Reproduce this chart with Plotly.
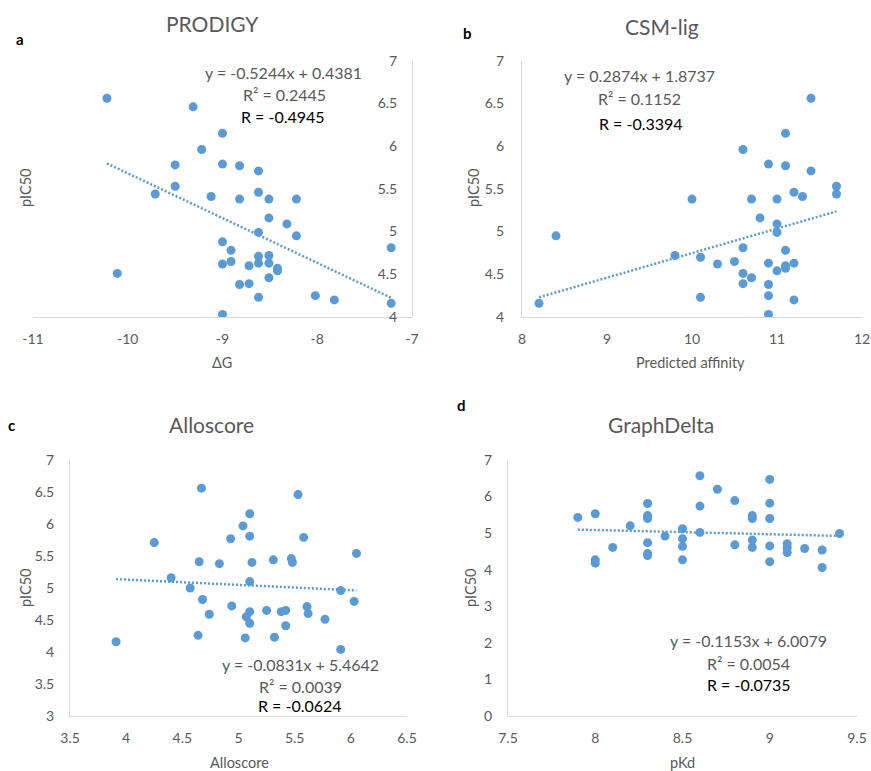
import plotly.graph_objects as go

W, H = 871, 771

# ---------------- data ----------------
# Panel a: PRODIGY (ΔG vs pIC50)
prodigy_x = [-10.22, -9.31, -9.0, -9.22, -9.5, -9.0, -8.82, -8.62, -9.5, -9.71,
             -9.12, -8.82, -8.62, -8.51, -8.22, -8.51, -8.32, -8.62, -8.22, -9.0,
             -8.91, -7.22, -8.62, -8.51, -8.62, -8.51, -8.91, -9.0, -8.72, -8.42,
             -8.42, -10.11, -8.51, -8.82, -8.72, -8.62, -8.02, -7.82, -7.22, -9.0]
prodigy_y = [6.56, 6.46, 6.15, 5.96, 5.78, 5.79, 5.77, 5.71, 5.53, 5.44,
             5.41, 5.38, 5.46, 5.38, 5.38, 5.16, 5.09, 4.99, 4.95, 4.88,
             4.78, 4.81, 4.71, 4.72, 4.63, 4.63, 4.65, 4.62, 4.60, 4.57,
             4.54, 4.51, 4.46, 4.38, 4.39, 4.23, 4.25, 4.20, 4.16, 4.03]

# Panel b: CSM-lig (predicted affinity vs pIC50)
csm_x = [11.4, 11.1, 10.6, 10.9, 11.1, 11.4, 11.7, 11.7, 11.2, 11.3,
         10.0, 10.7, 11.0, 10.8, 11.0, 11.0, 8.4, 10.6, 11.1, 9.8,
         10.1, 10.5, 10.3, 10.9, 11.2, 11.1, 11.1, 11.0, 10.6, 10.7,
         10.6, 10.9, 10.1, 10.9, 11.2, 8.2, 10.9]
csm_y = [6.56, 6.15, 5.96, 5.79, 5.77, 5.71, 5.53, 5.44, 5.46, 5.41,
         5.38, 5.38, 5.38, 5.16, 5.09, 4.99, 4.95, 4.81, 4.78, 4.72,
         4.70, 4.65, 4.62, 4.63, 4.63, 4.60, 4.57, 4.54, 4.51, 4.46,
         4.39, 4.38, 4.23, 4.25, 4.20, 4.16, 4.03]

# Panel c: Alloscore
allo_x = [4.67, 5.53, 5.10, 5.04, 4.93, 5.10, 5.58, 4.25, 6.05, 4.65,
          4.83, 5.12, 5.31, 5.47, 5.48, 4.40, 5.10, 4.57, 5.91, 4.68,
          6.03, 4.94, 5.61, 4.74, 5.10, 5.25, 5.38, 5.42, 5.62, 5.07,
          5.10, 5.77, 5.42, 4.64, 5.06, 5.32, 3.91, 5.91]
allo_y = [6.56, 6.46, 6.16, 5.97, 5.77, 5.81, 5.79, 5.71, 5.54, 5.41,
          5.38, 5.40, 5.44, 5.46, 5.40, 5.16, 5.10, 5.00, 4.96, 4.82,
          4.79, 4.72, 4.71, 4.59, 4.63, 4.65, 4.63, 4.65, 4.60, 4.55,
          4.45, 4.51, 4.41, 4.26, 4.22, 4.23, 4.16, 4.04]

# Panel d: GraphDelta (pKd vs pIC50)
gd_x = [7.9, 8.0, 8.0, 8.0, 8.1, 8.2, 8.3, 8.3, 8.3, 8.3,
        8.3, 8.3, 8.4, 8.5, 8.5, 8.5, 8.5, 8.6, 8.6, 8.6,
        8.7, 8.8, 8.8, 8.9, 8.9, 8.9, 8.9, 9.0, 9.0, 9.0,
        9.0, 9.0, 9.1, 9.1, 9.1, 9.2, 9.3, 9.3, 9.4]
gd_y = [5.43, 5.53, 4.27, 4.18, 4.61, 5.20, 5.81, 5.48, 5.40, 4.74,
        4.44, 4.39, 4.92, 5.12, 4.85, 4.64, 4.27, 6.57, 5.74, 5.02,
        6.20, 5.89, 4.68, 5.48, 5.40, 4.81, 4.61, 6.47, 5.82, 5.40,
        4.65, 4.22, 4.71, 4.60, 4.47, 4.58, 4.54, 4.06, 4.99]

# Trend line coefficients (as printed on the chart)
slopes = [-0.5244, 0.2874, -0.0831, -0.1153]
intercepts = [0.4381, 1.8737, 5.4642, 6.0079]
eq_texts = ["y = -0.5244x + 0.4381", "y = 0.2874x + 1.8737",
            "y = -0.0831x + 5.4642", "y = -0.1153x + 6.0079"]
r2_texts = ["R² = 0.2445", "R² = 0.1152", "R² = 0.0039", "R² = 0.0054"]
r_texts = ["R = -0.4945", "R = -0.3394", "R = -0.0624", "R = -0.0735"]

titles = ["PRODIGY", "CSM-lig", "Alloscore", "GraphDelta"]
letters = ["a", "b", "c", "d"]
xtitles = ["ΔG", "Predicted affinity", "Alloscore", "pKd"]

# tick labels
a_xticks = [-11, -10, -9, -8, -7]
a_xticktext = ["-11", "-10", "-9", "-8", "-7"]
ab_yticks = [4, 4.5, 5, 5.5, 6, 6.5, 7]
b_xticks = [8, 9, 10, 11, 12]
c_xticks = [3.5, 4, 4.5, 5, 5.5, 6, 6.5]
c_yticks = [3, 3.5, 4, 4.5, 5, 5.5, 6, 6.5, 7]
d_xticks = [7.5, 8, 8.5, 9, 9.5]
d_yticks = [0, 1, 2, 3, 4, 5, 6, 7]

# ---------------- styling ----------------
FONT = "Lato"
GRAY = "#595959"
LINE = "#d9d9d9"
BLUE = "#5B9BD5"


def px(x):
    return x / W


def py(y):
    return 1 - y / H


fig = go.Figure()

datasets = [(prodigy_x, prodigy_y), (csm_x, csm_y), (allo_x, allo_y), (gd_x, gd_y)]
axnames = [("x", "y"), ("x2", "y2"), ("x3", "y3"), ("x4", "y4")]

for i, ((xs, ys), (xa, ya)) in enumerate(zip(datasets, axnames)):
    x0, x1 = min(xs), max(xs)
    fig.add_trace(go.Scatter(
        x=[x0, x1], y=[slopes[i] * x0 + intercepts[i], slopes[i] * x1 + intercepts[i]],
        mode="lines", line=dict(color=BLUE, width=2.5, dash="2px,2px"),
        xaxis=xa, yaxis=ya, showlegend=False, hoverinfo="skip"))
    fig.add_trace(go.Scatter(
        x=xs, y=ys, mode="markers",
        marker=dict(color=BLUE, size=9, line=dict(width=0)),
        xaxis=xa, yaxis=ya, showlegend=False))

tickfont = dict(family=FONT, size=14, color=GRAY)
common = dict(showgrid=False, zeroline=False, showline=True, linecolor=LINE,
              linewidth=1, ticks="", tickfont=tickfont, automargin=False)

# domains in pixels
top_y = (60.7, 317)
bot_y = (460, 716)

fig.update_layout(
    width=W, height=H,
    margin=dict(l=0, r=0, t=0, b=0, pad=0, autoexpand=False),
    paper_bgcolor="white", plot_bgcolor="white",
    font=dict(family=FONT, color=GRAY),
    xaxis=dict(domain=[px(33), px(412)], range=[-11, -7], anchor="y",
               tickvals=a_xticks, ticktext=a_xticktext, ticklabelstandoff=9, **common),
    yaxis=dict(domain=[py(top_y[1]), py(top_y[0])], range=[4, 7], anchor="free",
               position=px(412), side="left", tickvals=ab_yticks,
               ticklabelstandoff=12, **common),
    xaxis2=dict(domain=[px(522), px(862)], range=[8, 12], anchor="y2",
                tickvals=b_xticks, ticklabelstandoff=9, **common),
    yaxis2=dict(domain=[py(top_y[1]), py(top_y[0])], range=[4, 7], anchor="x2",
                tickvals=ab_yticks, ticklabelstandoff=14, **common),
    xaxis3=dict(domain=[px(70), px(407)], range=[3.5, 6.5], anchor="y3",
                tickvals=c_xticks, ticklabelstandoff=9, **common),
    yaxis3=dict(domain=[py(bot_y[1]), py(bot_y[0])], range=[3, 7], anchor="x3",
                tickvals=c_yticks, ticklabelstandoff=12, **common),
    xaxis4=dict(domain=[px(508), px(857)], range=[7.5, 9.5], anchor="y4",
                tickvals=d_xticks, ticklabelstandoff=9, **common),
    yaxis4=dict(domain=[py(bot_y[1]), py(bot_y[0])], range=[0, 7], anchor="x4",
                tickvals=d_yticks, ticklabelstandoff=12, **common),
)

ann = []


def add_text(text, x, y, size, color=GRAY, bold=False, angle=0):
    ann.append(dict(text=f"<b>{text}</b>" if bold else text,
                    x=px(x), y=py(y), xref="paper", yref="paper",
                    xanchor="center", yanchor="middle", showarrow=False,
                    textangle=angle,
                    font=dict(family=FONT, size=size, color=color)))


title_pos = [(212, 23), (662, 27), (211, 424), (661, 424)]
letter_pos = [(20, 39), (467, 33), (11, 425), (461, 405)]
xtitle_pos = [(222, 362), (690, 362), (239, 762), (682, 762)]
ytitle_pos = [(25, 188), (473, 188), (25, 588), (470, 588)]
eq_pos = [[(283, 72), (284, 94), (283, 116)],
          [(639, 76), (639, 99), (641, 124)],
          [(300, 664), (300, 686), (300, 705)],
          [(748, 640), (748, 663), (749, 684)]]

for i in range(4):
    add_text(titles[i], *title_pos[i], 21)
    add_text(letters[i], *letter_pos[i], 15, color="#000000", bold=True)
    add_text(xtitles[i], *xtitle_pos[i], 14.5)
    add_text("pIC50", *ytitle_pos[i], 14.5, angle=-90)
    add_text(eq_texts[i], *eq_pos[i][0], 16)
    add_text(r2_texts[i], *eq_pos[i][1], 16)
    add_text(r_texts[i], *eq_pos[i][2], 16, color="#000000")

fig.update_layout(annotations=ann)

fig.write_html(
    "out.html",
    config={"displayModeBar": False},
    post_script="document.body.style.margin='0';document.body.style.padding='0';"
                "document.documentElement.style.overflow='hidden';",
)
